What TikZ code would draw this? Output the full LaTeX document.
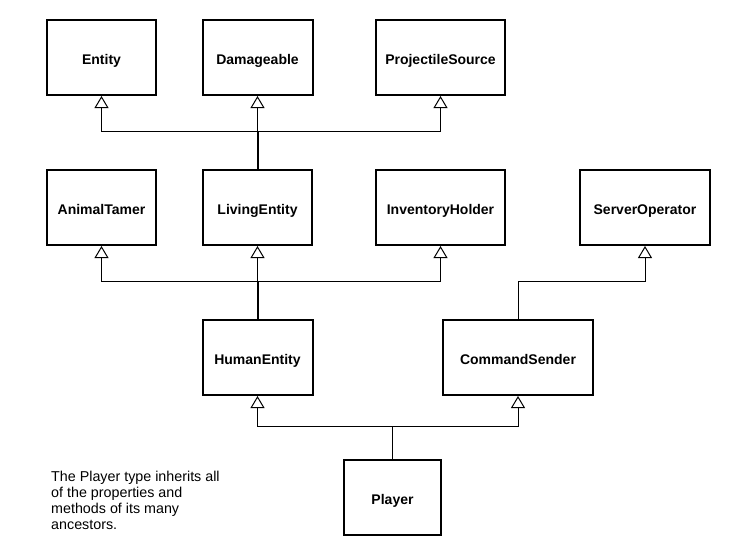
\documentclass[tikz,border=0pt]{standalone}
\usepackage{fontspec}
\setmainfont{Liberation Sans}
\usetikzlibrary{arrows.meta}
\begin{document}
\begin{tikzpicture}[x=1pt,y=-1pt,
  cls/.style={draw=black, line width=2pt, fill=white, minimum height=75pt, inner sep=0pt,
    text height=13pt, text depth=0pt,
    font=\fontsize{14}{16}\selectfont\bfseries},
  link/.style={draw=black, line width=1pt},
  inh/.style={link, -{Triangle[open, length=12pt, width=14pt, line width=1pt]}},
  note/.style={align=left, anchor=north west, inner sep=0pt, font=\fontsize{14.3}{16}\selectfont}
]
\useasboundingbox[fill=white] (0,0) rectangle (730,555);
% row 1
\node[cls, minimum width=109pt] (entity) at (101.5,57.5) {Entity};
\node[cls, minimum width=110pt] (damage) at (257.5,57.5) {Damageable};
\node[cls, minimum width=129pt] (proj) at (440.5,57.5) {ProjectileSource};
% row 2
\node[cls, minimum width=109pt] (tamer) at (101.5,207.5) {AnimalTamer};
\node[cls, minimum width=109pt] (living) at (257.5,207.5) {LivingEntity};
\node[cls, minimum width=129pt] (inv) at (440.5,207.5) {InventoryHolder};
\node[cls, minimum width=130pt] (server) at (645,207.5) {ServerOperator};
% row 3
\node[cls, minimum width=110pt] (human) at (257.5,357.5) {HumanEntity};
\node[cls, minimum width=150pt] (command) at (518,357.5) {CommandSender};
% row 4
\node[cls, minimum width=97pt] (player) at (392.5,497.5) {Player};
% note
\node[note] (txt) at (51,471) {The Player type inherits all\\of the properties and\\methods of its many\\ancestors.};
% connectors row 2 -> row 1
\draw[inh] (living.north) -- ++(0,-38) -| (entity.south);
\draw[inh] (living.north) -- (damage.south);
\draw[inh] (living.north) -- ++(0,-38) -| (proj.south);
% row 3 -> row 2
\draw[inh] (human.north) -- ++(0,-38) -| (tamer.south);
\draw[inh] (human.north) -- (living.south);
\draw[inh] (human.north) -- ++(0,-38) -| (inv.south);
\draw[inh] (command.north) -- ++(0,-38) -| (server.south);
% row 4 -> row 3
\draw[inh] (player.north) -- ++(0,-33) -| (human.south);
\draw[inh] (player.north) -- ++(0,-33) -| (command.south);
% heavier trunks
\draw[link, line width=2pt] (living.north) -- ++(0,-38);
\draw[link, line width=2pt] (human.north) -- ++(0,-38);
\end{tikzpicture}
\end{document}
